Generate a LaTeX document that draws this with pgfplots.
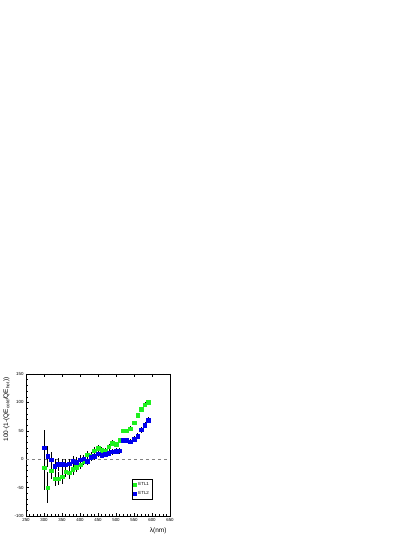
\documentclass[border=0pt]{standalone}
\usepackage{fontspec}
\setmainfont{Liberation Sans}
\usepackage{pgfplots}
\pgfplotsset{compat=1.18}
\usepackage{pgfplotstable}
\usetikzlibrary{shadows}

% ETL1: lambda, value, error
\pgfplotstableread{
x y e
300 -15 40
310 -50 27
320 -20 14
330 -34 13
340 -34 12
350 -31 12
360 -22 10
370 -24 10
380 -18 9
390 -14 9
400 -10 8
410 -3 8
420 8 7
430 6 7
440 15 6
450 19 6
460 16 6
470 15 5
480 22 5
490 28 5
500 26 5
510 33 4
520 50 4
530 50 4
540 54 4
550 64 4
560 77 4
570 88 4
580 96 4
590 100 4
}\etlone

% ETL2
\pgfplotstableread{
x y e
300 20 32
310 5 18
320 -1 14
330 -12 12
340 -9 11
350 -9 10
360 -10 10
370 -8 9
380 -3 9
390 -5 8
400 -1 8
410 1 7
420 -4 7
430 3 6
440 5 6
450 10 6
460 7 5
470 9 5
480 11 5
490 13 5
500 14 5
510 15 5
520 33 5
530 33 5
540 31 5
550 35 5
560 41 5
570 52 5
580 60 5
590 69 5
}\etltwo

\begin{document}
\begin{tikzpicture}[x=1pt,y=1pt]
\useasboundingbox (0,0) rectangle (415,537);
\fill[white] (0,0) rectangle (415,537);
\begin{axis}[
    at={(26pt,21pt)}, anchor=south west,
    scale only axis,
    width=144pt, height=142pt,
    xmin=250, xmax=650, ymin=-100, ymax=150,
    xtick={250,300,...,650},
    ytick={-100,-50,...,150},
    minor x tick num=4,
    minor y tick num=4,
    tick align=inside,
    xtick pos=both,
    ytick pos=left,
    major tick length=3pt,
    minor tick length=1.5pt,
    axis line style={line width=0.6pt},
    every tick/.style={black, line width=0.4pt},
    tick label style={font=\fontsize{4.4}{5}\selectfont},
    /pgf/number format/assume math mode=true,
    xticklabel style={yshift=1pt},
    yticklabel style={xshift=1pt},
    xlabel={λ(nm)},
    ylabel={100·(1-(QE\textsubscript{cold}/QE\textsubscript{hot}))},
    label style={font=\fontsize{6.5}{7}\selectfont},
    xlabel style={at={(rel axis cs:1,0)}, anchor=north east, yshift=-8pt},
    ylabel style={at={(rel axis cs:0,1)}, anchor=south east, yshift=13pt},
    legend style={
        at={(rel axis cs:0.736,0.12)}, anchor=south west,
        font=\fontsize{4.4}{5}\selectfont,
        draw=black, line width=0.4pt,
        inner sep=1pt, row sep=0pt,
        drop shadow={shadow xshift=1.2pt, shadow yshift=-1.2pt, fill=black, opacity=1},
        legend cell align=left,
    },
    legend image code/.code={\draw[#1, mark=square*, mark size=1.6pt] plot coordinates {(0.15cm,0cm)};},
]
\addplot[gray, dashed, line width=0.5pt, forget plot] coordinates {(250,0) (650,0)};
\addplot[only marks, mark=square*, mark size=1.8pt, color={rgb,255:red,30;green,240;blue,30},
    mark options={draw={rgb,255:red,30;green,240;blue,30}},
    error bars/.cd, y dir=both, y explicit,
    error bar style={black, line width=0.35pt}, error mark=none]
    table[x=x, y=y, y error=e] {\etlone};
\addlegendentry{ETL1}
\addplot[only marks, mark=square*, mark size=1.8pt, color={rgb,255:red,0;green,0;blue,238},
    mark options={draw={rgb,255:red,0;green,0;blue,238}},
    error bars/.cd, y dir=both, y explicit,
    error bar style={black, line width=0.35pt}, error mark=none]
    table[x=x, y=y, y error=e] {\etltwo};
\addlegendentry{ETL2}
\end{axis}
\end{tikzpicture}
\end{document}
